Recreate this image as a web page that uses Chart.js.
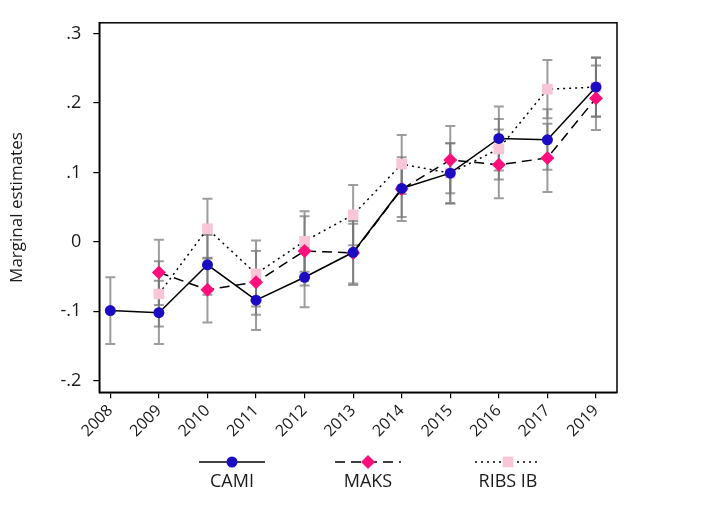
<!DOCTYPE html>
<html>
<head>
<meta charset="utf-8">
<script src="https://cdn.jsdelivr.net/npm/chart.js@4.4.1/dist/chart.umd.min.js"></script>
<style>
html,body{margin:0;padding:0;background:#fff;}
#wrap{width:720px;height:508px;position:relative;}
</style>
</head>
<body>
<div id="wrap"><canvas id="c" width="720" height="508"></canvas></div>
<script>
const years = ['2008','2009','2010','2011','2012','2013','2014','2015','2016','2017','2019'];
const yTickValues = [-0.2,-0.1,0,0.1,0.2,0.3];

const camiValues = [-0.099,-0.102,-0.033,-0.084,-0.051,-0.015,0.077,0.099,0.149,0.147,0.223];
const camiLow    = [-0.147,-0.147,-0.076,-0.127,-0.094,-0.060,0.036,0.056,0.103,0.104,0.180];
const camiHigh   = [-0.051,-0.056, 0.010,-0.041,-0.008, 0.030,0.118,0.142,0.195,0.191,0.266];

const maksValues = [null,-0.044,-0.069,-0.058,-0.013,-0.016,0.076,0.118,0.111,0.121,0.207];
const maksLow    = [null,-0.091,-0.116,-0.105,-0.063,-0.062,0.030,0.070,0.063,0.072,0.161];
const maksHigh   = [null, 0.003,-0.023,-0.013, 0.037, 0.026,0.122,0.167,0.162,0.170,0.254];

const ribsValues = [null,-0.075,0.019,-0.046,0.001,0.039,0.112,0.099,0.134,0.220,0.223];
const ribsLow    = [null,-0.122,-0.024,-0.093,-0.043,-0.005,0.069,0.055,0.090,0.178,0.181];
const ribsHigh   = [null,-0.028,0.062,0.002,0.044,0.082,0.154,0.142,0.177,0.262,0.265];

const seriesNames = ['CAMI','MAKS','RIBS IB'];

function toPoints(vals, lo, hi){
  const out = [];
  vals.forEach((v,i)=>{ if(v!==null) out.push({x:i, y:v, lo:lo[i], hi:hi[i]}); });
  return out;
}

const FONT = '"Open Sans", "Noto Sans", sans-serif';

const errorBars = {
  id:'errorBars',
  beforeDatasetsDraw(chart){
    const ctx = chart.ctx, xs = chart.scales.x, ys = chart.scales.y;
    ctx.save();
    ctx.strokeStyle = 'rgba(115,115,115,0.7)';
    ctx.lineWidth = 2;
    chart.data.datasets.forEach(ds=>{
      ds.data.forEach(p=>{
        const x = xs.getPixelForValue(p.x);
        const y1 = ys.getPixelForValue(p.lo), y2 = ys.getPixelForValue(p.hi);
        ctx.beginPath();
        ctx.moveTo(x,y1); ctx.lineTo(x,y2);
        ctx.moveTo(x-5,y1); ctx.lineTo(x+5,y1);
        ctx.moveTo(x-5,y2); ctx.lineTo(x+5,y2);
        ctx.stroke();
      });
    });
    ctx.restore();
  }
};

const frame = {
  id:'frame',
  afterDraw(chart){
    const a = chart.chartArea, ctx = chart.ctx;
    ctx.save();
    ctx.strokeStyle = '#000';
    ctx.lineWidth = 1.5;
    ctx.strokeRect(a.left, a.top, a.right-a.left, a.bottom-a.top);
    ctx.restore();
  }
};

const customLegend = {
  id:'customLegend',
  afterDraw(chart){
    const ctx = chart.ctx;
    const centers = [232, 368, 508];
    const lineY = 462, textY = 482, half = 33;
    ctx.save();
    chart.data.datasets.forEach((ds,i)=>{
      const cx = centers[i];
      ctx.beginPath();
      ctx.strokeStyle = ds.borderColor;
      ctx.lineWidth = ds.borderWidth;
      ctx.setLineDash(ds.borderDash || []);
      ctx.moveTo(cx-half, lineY); ctx.lineTo(cx+half, lineY);
      ctx.stroke();
      ctx.setLineDash([]);
      ctx.fillStyle = ds.pointBackgroundColor;
      ctx.beginPath();
      Chart.helpers.drawPoint(ctx, {pointStyle: ds.pointStyle, radius: ds.pointRadius, borderWidth: 0}, cx, lineY);
      ctx.fillStyle = '#1a1a1a';
      ctx.font = '18px ' + FONT;
      ctx.textAlign = 'center';
      ctx.textBaseline = 'middle';
      ctx.fillText(ds.label, cx, textY);
    });
    ctx.restore();
  }
};

const chart = new Chart(document.getElementById('c'), {
  type:'line',
  data:{
    datasets:[
      {label:seriesNames[0], data:toPoints(camiValues,camiLow,camiHigh), borderColor:'#000', borderWidth:1.5,
       pointStyle:'circle', pointRadius:5.5, pointBackgroundColor:'#1b0cc4', pointBorderColor:'#1b0cc4', pointBorderWidth:0, pointHoverRadius:5.5},
      {label:seriesNames[1], data:toPoints(maksValues,maksLow,maksHigh), borderColor:'#000', borderWidth:1.5, borderDash:[10,6],
       pointStyle:'rectRot', pointRadius:7, pointBackgroundColor:'#ff0f7b', pointBorderColor:'#ff0f7b', pointBorderWidth:0, pointHoverRadius:7},
      {label:seriesNames[2], data:toPoints(ribsValues,ribsLow,ribsHigh), borderColor:'#000', borderWidth:1.5, borderDash:[2,4],
       pointStyle:'rect', pointRadius:7.5, pointBackgroundColor:'#f8c6d6', pointBorderColor:'#f8c6d6', pointBorderWidth:0, pointHoverRadius:7.5}
    ]
  },
  options:{
    responsive:false,
    animation:false,
    parsing:{xAxisKey:'x', yAxisKey:'y'},
    layout:{padding:{left:0, right:103, top:17, bottom:0}},
    plugins:{legend:{display:false}, tooltip:{enabled:false}},
    scales:{
      x:{
        type:'linear', min:-0.227, max:10.433,
        afterFit(s){ s.height = 115.7; },
        border:{display:true, color:'#000', width:1.5},
        grid:{display:true, drawOnChartArea:false, drawTicks:true, tickLength:6, color:'#000', lineWidth:1.2},
        ticks:{
          includeBounds:false, stepSize:1, autoSkip:false,
          minRotation:45, maxRotation:45, padding:3,
          color:'#1a1a1a', font:{family:FONT, size:16},
          callback:(v)=> years[Math.round(v)] !== undefined && Math.abs(v-Math.round(v))<1e-6 ? years[Math.round(v)] : ''
        }
      },
      y:{
        type:'linear', min:-0.2167, max:0.3156,
        afterFit(s){ s.width = 99.3; },
        afterBuildTicks(s){ s.ticks = yTickValues.map(v=>({value:v})); },
        border:{display:true, color:'#000', width:1.5},
        grid:{display:true, drawOnChartArea:false, drawTicks:true, tickLength:6, color:'#000', lineWidth:1.2},
        title:{display:true, text:'Marginal estimates', color:'#1a1a1a', font:{family:FONT, size:17}, padding:{top:7, bottom:0}},
        ticks:{
          includeBounds:false, padding:12,
          color:'#1a1a1a', font:{family:FONT, size:18},
          callback:(v)=>{
            const r = Math.round(v*10)/10;
            if (r === 0) return '0';
            return (r<0?'-':'') + String(Math.abs(r)).replace(/^0/,'');
          }
        }
      }
    }
  },
  plugins:[errorBars, frame, customLegend]
});
</script>
</body>
</html>
